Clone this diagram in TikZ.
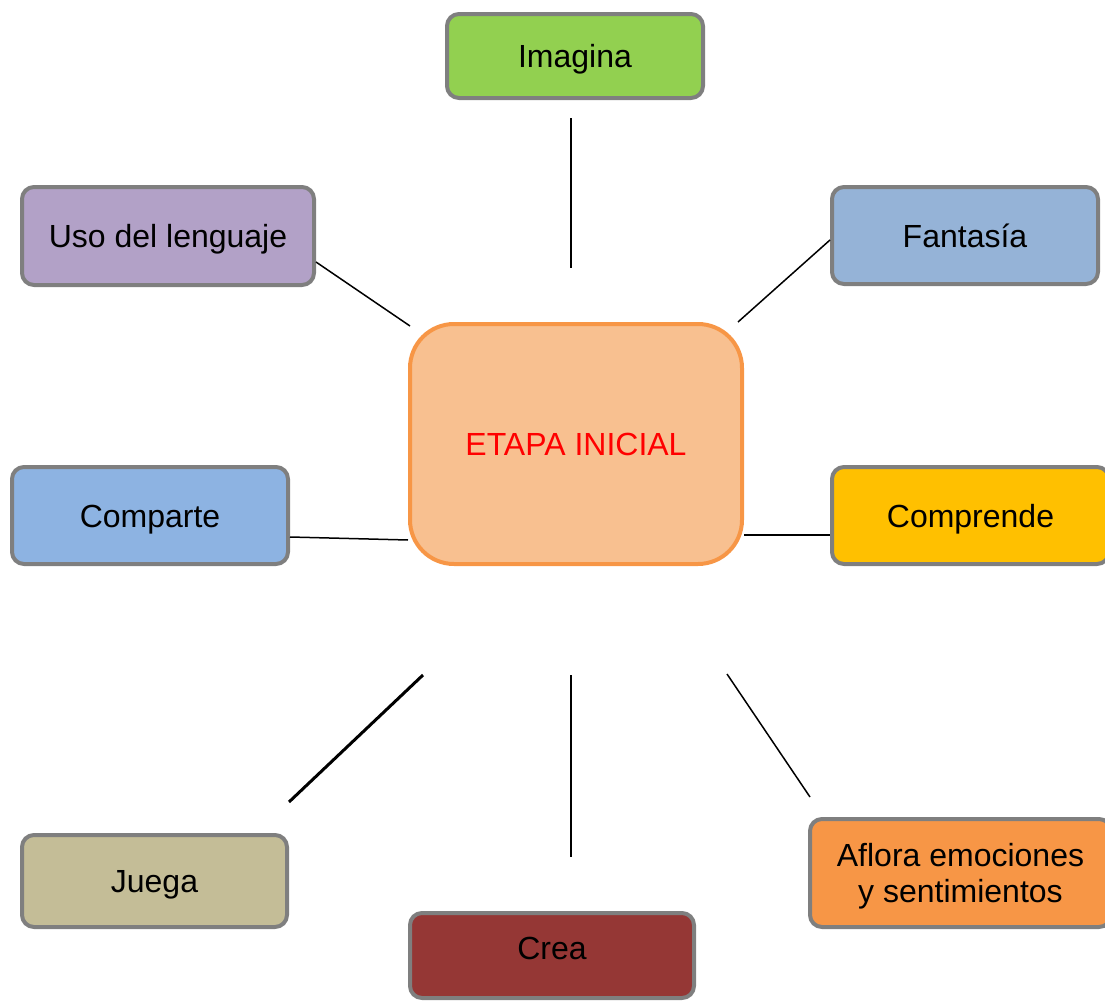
\documentclass[tikz,border=0pt]{standalone}
\usepackage{fontspec}
\setmainfont{Liberation Sans}
\usepackage{tikz}
\definecolor{boxgray}{HTML}{7F7F7F}
\definecolor{imgreen}{HTML}{92D050}
\definecolor{usopurple}{HTML}{B2A1C7}
\definecolor{fanblue}{HTML}{95B3D7}
\definecolor{comblue}{HTML}{8DB3E2}
\definecolor{comyellow}{HTML}{FFC000}
\definecolor{etapafill}{HTML}{F8C090}
\definecolor{etapaline}{HTML}{F79646}
\definecolor{juegatan}{HTML}{C4BD97}
\definecolor{creared}{HTML}{953735}
\definecolor{afloraorange}{HTML}{F79646}
\tikzstyle{box} = [draw=boxgray,line width=2pt,rounded corners=6pt,align=center,inner sep=0pt,text height=11.5pt,text depth=0pt,font=\fontsize{16}{20}\selectfont]
\tikzstyle{link} = [line width=.75pt]

\begin{document}
\begin{tikzpicture}[x=.5pt,y=-.5pt]
      \useasboundingbox(0,0)rectangle(1105,1001);
      \clip(0,0)rectangle(1105,1001);
      % boxes
      \node[box,fill=imgreen,minimum width=128pt,minimum height=42pt](imagina)at(575,56){Imagina};
      \node[box,fill=usopurple,minimum width=146pt,minimum height=49pt](uso)at(168,236){Uso del lenguaje};
      \node[box,fill=fanblue,minimum width=133pt,minimum height=48.5pt](fantasia)at(965,235.5){Fantasía};
      \node[box,draw=etapaline,fill=etapafill,rounded corners=22pt,minimum width=166pt,minimum height=120pt,text=red](etapa)at(576,444){ETAPA INICIAL};
      \node[box,fill=comblue,minimum width=138pt,minimum height=48.5pt](comparte)at(150,515.5){Comparte};
      \node[box,fill=comyellow,minimum width=138.5pt,minimum height=48.5pt](comprende)at(970.5,515.5){Comprende};
      \node[box,fill=juegatan,minimum width=132.5pt,minimum height=46pt](juega)at(154.5,881){Juega};
      \node[box,fill=creared,minimum width=142pt,minimum height=42.5pt,text depth=7.5pt](crea)at(552,955.5){Crea};
      \node[box,fill=afloraorange,minimum width=150.5pt,minimum height=54pt,font=\fontsize{16}{18}\selectfont,text height=29.5pt,text depth=.5pt](aflora)at(960.5,873){Aflora emociones\\y sentimientos};
      % free ends of the links
      \coordinate(imgA)at(571,118);\coordinate(imgB)at(571,268);
      \coordinate(usoA)at(316,262);\coordinate(usoB)at(410,326);
      \coordinate(fanA)at(830,240);\coordinate(fanB)at(738,322);
      \coordinate(compA)at(290,537);\coordinate(compB)at(408,540);
      \coordinate(prenA)at(744,535);\coordinate(prenB)at(830,535);
      \coordinate(juegaA)at(289,802);\coordinate(juegaB)at(423,675);
      \coordinate(creaA)at(571,675);\coordinate(creaB)at(571,857);
      \coordinate(afloA)at(727,674);\coordinate(afloB)at(810,797);
      % links
      \draw[link](imgA)--(imgB);
      \draw[link](usoA)--(usoB);
      \draw[link](fanA)--(fanB);
      \draw[link](compA)--(compB);
      \draw[link](prenA)--(prenB);
      \draw[link,line width=1.5pt](juegaA)--(juegaB);
      \draw[link](creaA)--(creaB);
      \draw[link](afloA)--(afloB);
    \end{tikzpicture}
\end{document}
